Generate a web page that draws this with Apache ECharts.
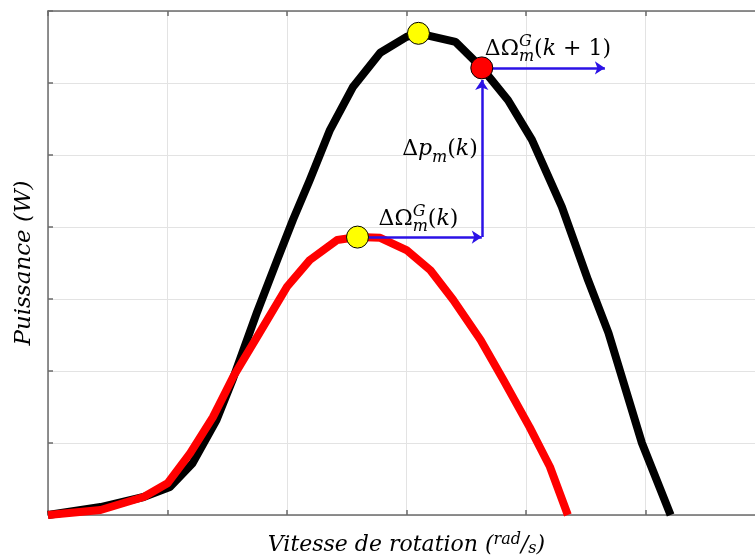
<!DOCTYPE html>
<html>
<head>
<meta charset="utf-8">
<script src="https://cdn.jsdelivr.net/npm/echarts@6/dist/echarts.min.js"></script>
<style>
html, body { margin: 0; padding: 0; background: #fff; overflow: hidden; }
/* the plot box runs past the right edge of the picture, as in the source */
#main { width: 765px; height: 556px; }
</style>
</head>
<body>
<div id="main"></div>
<script>
// curve at the higher wind speed (black) and the lower one (red)
var blackSpeed = [0, 0.44, 0.80, 1.02, 1.21, 1.41, 1.55, 1.75, 1.92, 2.05, 2.19, 2.36, 2.55, 2.78, 3.00, 3.10, 3.41, 3.63, 3.85, 4.05, 4.30, 4.52, 4.69, 4.97, 5.21];
var blackPower = [0, 0.11, 0.25, 0.39, 0.72, 1.32, 1.90, 2.82, 3.55, 4.10, 4.65, 5.35, 5.94, 6.42, 6.64, 6.69, 6.57, 6.21, 5.76, 5.21, 4.28, 3.26, 2.53, 1.00, 0];
var redSpeed = [0, 0.44, 0.80, 1.00, 1.19, 1.38, 1.55, 1.77, 2.00, 2.19, 2.42, 2.59, 2.78, 3.00, 3.20, 3.39, 3.62, 3.81, 4.03, 4.20, 4.35];
var redPower = [0, 0.07, 0.25, 0.44, 0.86, 1.36, 1.92, 2.53, 3.17, 3.54, 3.82, 3.86, 3.85, 3.68, 3.40, 2.99, 2.43, 1.88, 1.22, 0.67, 0];

// MPPT steps: start and end of each blue arrow
var stepFrom = [[2.59, 3.86], [3.63, 3.86], [3.63, 6.21]];
var stepTo = [[3.63, 3.86], [3.63, 6.04], [4.66, 6.21]];

var optimumPoints = [[2.59, 3.86], [3.10, 6.69]];
var nextPoint = [[3.63, 6.21]];

function zip(xs, ys) {
  return xs.map(function (x, i) { return [x, ys[i]]; });
}

var chart = echarts.init(document.getElementById('main'));
var axisColor = '#6b6b6b';
var serif = '"DejaVu Serif", "Liberation Serif", serif';

var option = {
  animation: false,
  grid: { left: 48, top: 11, right: 0, bottom: 41, outerBoundsMode: 'none' },
  xAxis: [
    {
      type: 'value', min: 0, max: 6, interval: 1,
      name: 'Vitesse de rotation ({sup|rad}/{sub|s})',
      nameLocation: 'middle', nameGap: 17,
      nameTextStyle: {
        fontFamily: serif, fontStyle: 'italic', fontSize: 22, color: '#000',
        rich: {
          sup: { fontFamily: serif, fontStyle: 'italic', fontSize: 16, color: '#000', padding: [0, 0, 10, 0] },
          sub: { fontFamily: serif, fontStyle: 'italic', fontSize: 16, color: '#000', padding: [8, 0, 0, 0] }
        }
      },
      axisLine: { lineStyle: { color: axisColor, width: 1.5 } },
      axisTick: { inside: true, length: 5, lineStyle: { color: axisColor, width: 1.5 } },
      axisLabel: { show: false },
      splitLine: { lineStyle: { color: '#e3e3e3', width: 1 } }
    },
    {
      type: 'value', min: 0, max: 6, interval: 1, position: 'top',
      axisLine: { lineStyle: { color: axisColor, width: 1.5 } },
      axisTick: { inside: true, length: 5, lineStyle: { color: axisColor, width: 1.5 } },
      axisLabel: { show: false },
      splitLine: { show: false }
    }
  ],
  yAxis: {
    type: 'value', min: 0, max: 7, interval: 1,
    name: 'Puissance (W)',
    nameLocation: 'middle', nameGap: 12,
    nameTextStyle: { fontFamily: serif, fontStyle: 'italic', fontSize: 23, color: '#000' },
    axisLine: { show: true, lineStyle: { color: axisColor, width: 1.5 } },
    axisTick: { show: true, inside: true, length: 5, lineStyle: { color: axisColor, width: 1.5 } },
    axisLabel: { show: false },
    splitLine: { lineStyle: { color: '#e3e3e3', width: 1 } }
  },
  series: [
    {
      type: 'line', data: zip(blackSpeed, blackPower), symbol: 'none', clip: false,
      lineStyle: { color: '#000', width: 8, join: 'round' }, z: 2
    },
    {
      type: 'line', data: zip(redSpeed, redPower), symbol: 'none', clip: false,
      lineStyle: { color: '#ff0000', width: 8, join: 'round' }, z: 3
    },
    {
      type: 'lines', coordinateSystem: 'cartesian2d', z: 4,
      symbol: ['none', 'arrow'], symbolSize: 10,
      lineStyle: { color: '#2b12e6', width: 2.5, opacity: 1, curveness: 0 },
      data: stepFrom.map(function (p, i) { return { coords: [p, stepTo[i]] }; })
    },
    {
      type: 'scatter', data: optimumPoints, symbolSize: 22, z: 5,
      itemStyle: { color: '#ffff00', borderColor: '#000', borderWidth: 1, opacity: 1 }
    },
    {
      type: 'scatter', data: nextPoint, symbolSize: 22, z: 5,
      itemStyle: { color: '#ff0000', borderColor: '#000', borderWidth: 1, opacity: 1 }
    }
  ]
};
chart.setOption(option);

// math annotations (Δ Ω with stacked sub/superscripts), placed from the arrow ends
var ctx = document.createElement('canvas').getContext('2d');
function mathLabel(x, baseline, parts, alignRight) {
  var laid = [];
  var cx = 0;
  parts.forEach(function (p) {
    var adv = 0;
    p.forEach(function (q) {
      var size = q.small ? 16 : 22;
      var font = (q.it ? 'italic ' : '') + size + 'px ' + serif;
      ctx.font = font;
      adv = Math.max(adv, ctx.measureText(q.t).width);
      laid.push({ t: q.t, font: font, dx: cx, dy: q.dy || 0 });
    });
    cx += adv;
  });
  var x0 = alignRight ? x - cx : x;
  return laid.map(function (l) {
    return {
      type: 'text', x: x0 + l.dx, y: baseline + l.dy, z: 10,
      style: { text: l.t, font: l.font, fill: '#000', textVerticalAlign: 'bottom' }
    };
  });
}

var a = chart.convertToPixel({ gridIndex: 0 }, stepFrom[0]);
var b = chart.convertToPixel({ gridIndex: 0 }, stepTo[0]);
var c = chart.convertToPixel({ gridIndex: 0 }, stepFrom[2]);

function omega(tail) {
  return [
    [{ t: 'ΔΩ' }],
    [{ t: 'G', it: true, small: true, dy: -10 }, { t: 'm', it: true, small: true, dy: 5 }]
  ].concat(tail);
}

var labels = []
  .concat(mathLabel(a[0] + 21, a[1] - 7, omega([[{ t: '(' }], [{ t: 'k', it: true }], [{ t: ')' }]])))
  .concat(mathLabel(b[0] - 4, (a[1] + c[1]) / 2 + 8, [
    [{ t: 'Δ' }], [{ t: 'p', it: true }], [{ t: 'm', it: true, small: true, dy: 5 }],
    [{ t: '(' }], [{ t: 'k', it: true }], [{ t: ')' }]
  ], true))
  .concat(mathLabel(c[0] + 3, c[1] - 8, omega([[{ t: '(' }], [{ t: 'k', it: true }], [{ t: ' + 1)' }]])));

chart.setOption({ graphic: labels });
</script>
</body>
</html>
